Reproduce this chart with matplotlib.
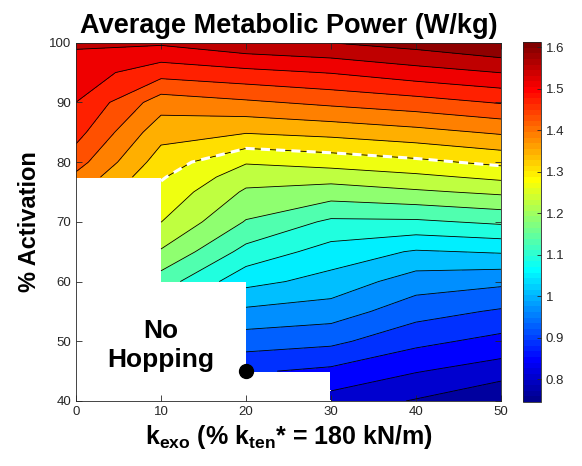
import numpy as np
import matplotlib
matplotlib.use('Agg')
import matplotlib.pyplot as plt
from matplotlib.colors import Normalize, ListedColormap
from matplotlib.cm import ScalarMappable
from matplotlib.ticker import FormatStrFormatter

plt.rcParams['font.family'] = ['Liberation Sans', 'DejaVu Sans']
plt.rcParams['mathtext.fontset'] = 'custom'
plt.rcParams['mathtext.rm'] = 'Liberation Sans:bold'
plt.rcParams['mathtext.it'] = 'Liberation Sans:bold'
plt.rcParams['mathtext.bf'] = 'Liberation Sans:bold'

# exo stiffness (% of k_ten*) and muscle activation (%)
k_exo = [0, 10, 20, 30, 40, 50]
activation = [40, 45, 50, 55, 60, 65, 70, 75, 77.5, 80, 85, 90, 95, 100]

nan = np.nan
# average metabolic power (W/kg) per k_exo column, bottom -> top; nan = no hopping
power_k0 = [nan, nan, nan, nan, nan, nan, nan, nan, 1.396, 1.423, 1.462, 1.488, 1.510, 1.535]
power_k10 = [nan, nan, nan, nan, 1.137, 1.195, 1.241, 1.270, 1.286, 1.303, 1.338, 1.384, 1.463, 1.536]
power_k20 = [nan, 0.874, 0.930, 0.984, 1.047, 1.103, 1.155, 1.193, 1.216, 1.244, 1.326, 1.399, 1.477, 1.560]
power_k30 = [0.811, 0.860, 0.920, 0.973, 1.019, 1.058, 1.109, 1.179, 1.216, 1.257, 1.336, 1.415, 1.490, 1.571]
power_k40 = [0.783, 0.830, 0.880, 0.927, 0.972, 1.030, 1.110, 1.193, 1.231, 1.272, 1.351, 1.430, 1.512, 1.588]
power_k50 = [0.745, 0.807, 0.856, 0.905, 0.961, 1.038, 1.124, 1.207, 1.250, 1.292, 1.370, 1.450, 1.530, 1.612]

# hopping limit point marked on the plot
limit_k, limit_act = 20, 45


def matlab_jet(n=64):
    # same construction as MATLAB's jet(n)
    m = int(np.ceil(n / 4))
    u = np.concatenate([np.arange(1, m + 1) / m, np.ones(m - 1), np.arange(m, 0, -1) / m])
    g = int(np.ceil(m / 2)) - (1 if n % 4 == 1 else 0) + np.arange(1, len(u) + 1)
    r = g + m
    b = g - m
    J = np.zeros((n, 3))
    J[r[r <= n] - 1, 0] = u[r <= n]
    J[g[g <= n] - 1, 1] = u[g <= n]
    J[b[b >= 1] - 1, 2] = u[b >= 1]
    return ListedColormap(J)


X, Y = np.meshgrid(k_exo, activation)
Z = np.column_stack([power_k0, power_k10, power_k20, power_k30, power_k40, power_k50])
Z = np.ma.masked_invalid(Z)

zmin, zmax = Z.min(), Z.max()
levels = np.linspace(zmin, zmax, 22)
cmap = matlab_jet(64)
norm = Normalize(zmin, zmax)

fig = plt.figure(figsize=(5.82, 4.66), dpi=100)
ax = fig.add_axes([0.1306, 0.1395, 0.7302, 0.7689])

ax.contourf(X, Y, Z, levels=levels, cmap=cmap, norm=norm, corner_mask=False)
ax.contour(X, Y, Z, levels=levels[1:-1], colors='k', linewidths=0.6, corner_mask=False)
# dashed white contour
ax.contour(X, Y, Z, levels=[levels[13]], colors='w', linewidths=2.2,
           linestyles=[(0, (3, 2))], corner_mask=False)

ax.plot(limit_k, limit_act, 'o', color='k', ms=10, clip_on=False, zorder=5)
ax.text(10, 49.3, 'No\nHopping', ha='center', va='center', fontsize=19,
        fontweight='bold', linespacing=1.3)

ax.set_xlim(0, 50)
ax.set_ylim(40, 100)
ax.set_xticks(range(0, 51, 10))
ax.set_yticks(range(40, 101, 10))
ax.tick_params(direction='in', top=True, right=True, labelsize=9.5,
               colors='#262626', length=4, width=0.6)
for sp in ax.spines.values():
    sp.set_color('#262626')
    sp.set_linewidth(0.6)

ax.set_title('Average Metabolic Power (W/kg)', fontsize=19.5, fontweight='bold', pad=7)
ax.set_xlabel(r'k$_{exo}$ (% k$_{ten}$* = 180 kN/m)', fontsize=18, fontweight='bold', labelpad=4)
ax.set_ylabel('% Activation', fontsize=17, fontweight='bold', labelpad=6)

# colorbar
cax = fig.add_axes([0.8986, 0.1373, 0.031, 0.7725])
cb = fig.colorbar(ScalarMappable(norm=norm, cmap=cmap), cax=cax)
cb.set_ticks(np.arange(0.8, 1.61, 0.1))
cb.ax.yaxis.set_major_formatter(FormatStrFormatter('%g'))
cb.ax.tick_params(direction='in', labelsize=9.5, colors='#262626', length=3, width=0.6)
cb.outline.set_edgecolor('#262626')
cb.outline.set_linewidth(0.6)

fig.savefig('out.png', dpi=100)
